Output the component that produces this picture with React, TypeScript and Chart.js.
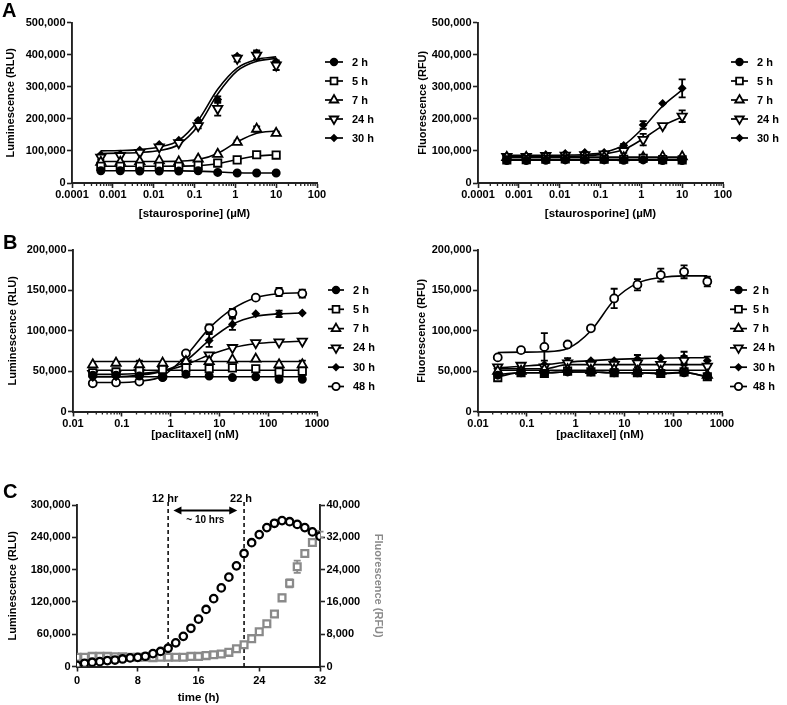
import React, { useEffect, useRef } from 'react';
import { Chart, registerables } from 'chart.js';
import { drawPoint } from 'chart.js/helpers';

Chart.register(...registerables);

const FONT = "'Liberation Sans', Arial, Helvetica, sans-serif";
const W = 787;
const H = 705;
const GRAY = '#8a8a8a';

// ---------------- DATA ----------------
const stauroConc = [0.000508, 0.00152, 0.00457, 0.0137, 0.0412, 0.123, 0.37, 1.11, 3.33, 10];
const paclitaxelConc = [0.0254, 0.0762, 0.229, 0.686, 2.06, 6.17, 18.5, 55.6, 167, 500];

const stauroMajorTicks = [0.0001, 0.001, 0.01, 0.1, 1, 10, 100];
const stauroTickLabels = ['0.0001', '0.001', '0.01', '0.1', '1', '10', '100'];
const paclMajorTicks = [0.01, 0.1, 1, 10, 100, 1000];
const paclTickLabels = ['0.01', '0.1', '1', '10', '100', '1000'];
const yTicksA = [0, 100000, 200000, 300000, 400000, 500000];
const yTicksB = [0, 50000, 100000, 150000, 200000];
const timeTicks = [0, 8, 16, 24, 32];
const yTicksCLum = [0, 60000, 120000, 180000, 240000, 300000];
const yTicksCFlu = [0, 8000, 16000, 24000, 32000, 40000];

const seriesA = ['2 h', '5 h', '7 h', '24 h', '30 h'];
const seriesB = ['2 h', '5 h', '7 h', '24 h', '30 h', '48 h'];

// A, luminescence (staurosporine)
const aLum2h = [38000, 38000, 37000, 37000, 37000, 38000, 33000, 31000, 31000, 31000];
const aLum5h = [52000, 52000, 52000, 52000, 52000, 55000, 62000, 72000, 88000, 87000];
const aLum7h = [65000, 65000, 67000, 70000, 66000, 75000, 90000, 127000, 168000, 155000];
const aLum24h = [80000, 85000, 95000, 112000, 125000, 178000, 232000, 388000, 398000, 367000];
const aLum30h = [88000, 90000, 102000, 120000, 133000, 195000, 260000, 395000, 405000, 378000];
const aLum2hFit = [38000, 38000, 38000, 38000, 37800, 37000, 34500, 32000, 31200, 31000];
const aLum5hFit = [52000, 52000, 52000, 52000, 52500, 54000, 60000, 73000, 84000, 88000];
const aLum7hFit = [67000, 67000, 67000, 67000, 68000, 73000, 92000, 128000, 155000, 162000];
const aLum24hFit = [92000, 93000, 95000, 101000, 120000, 178000, 277000, 349000, 379000, 388000];
const aLum30hFit = [100000, 101000, 104000, 112000, 133000, 195000, 292000, 358000, 385000, 393000];
const aLum7hErr = [0, 0, 0, 0, 0, 0, 0, 5000, 8000, 5000];
const aLum24hErr = [8000, 0, 0, 0, 0, 8000, 22000, 10000, 12000, 15000];
const aLum30hErr = [0, 0, 0, 0, 0, 0, 10000, 0, 8000, 0];

// A, fluorescence (staurosporine)
const aFlu2h = [70000, 70000, 71000, 72000, 72000, 72000, 71000, 72000, 70000, 70000];
const aFlu5h = [72000, 73000, 74000, 75000, 75000, 74000, 74000, 77000, 73000, 72000];
const aFlu7h = [80000, 80000, 80000, 81000, 80000, 80000, 79000, 80000, 82000, 82000];
const aFlu24h = [82000, 82000, 85000, 86000, 88000, 90000, 100000, 135000, 178000, 208000];
const aFlu30h = [85000, 85000, 88000, 92000, 95000, 95000, 117000, 181000, 248000, 295000];
const aFlu2hFit = [71000, 71000, 71000, 71000, 71000, 71000, 71000, 71000, 71000, 71000];
const aFlu5hFit = [74000, 74000, 74000, 74000, 74000, 74000, 74000, 74000, 74000, 74000];
const aFlu7hFit = [80500, 80500, 80500, 80500, 80500, 80500, 80500, 80500, 80500, 80500];
const aFlu24hFit = [82000, 82000, 82000, 83000, 85000, 90000, 104000, 138000, 178000, 206000];
const aFlu30hFit = [86000, 86000, 86000, 87000, 89000, 96000, 118000, 172000, 240000, 290000];
const aFlu24hErr = [0, 0, 0, 0, 0, 0, 6000, 18000, 5000, 18000];
const aFlu30hErr = [0, 0, 0, 0, 0, 0, 5000, 12000, 0, 28000];

// B, luminescence (paclitaxel)
const bLum2h = [45000, 45000, 44000, 42000, 46000, 44000, 42000, 43000, 40000, 40000];
const bLum5h = [48000, 49000, 50000, 52000, 54000, 53000, 54000, 53000, 49000, 50000];
const bLum7h = [58000, 60000, 58000, 60000, 62000, 62000, 64000, 65000, 58000, 58000];
const bLum24h = [47000, 47000, 48000, 52000, 60000, 70000, 79000, 85000, 86000, 87000];
const bLum30h = [42000, 43000, 45000, 50000, 62000, 88000, 108000, 121000, 121000, 122000];
const bLum48h = [35000, 36000, 37000, 43000, 72000, 103000, 122000, 141000, 148000, 146000];
const bLum2hFit = [43000, 43000, 43000, 43000, 43000, 43000, 43000, 43000, 43000, 43000];
const bLum5hFit = [51000, 51000, 51000, 51000, 51000, 51000, 51000, 51000, 51000, 51000];
const bLum7hFit = [62000, 62000, 62000, 62000, 62000, 62000, 62000, 62000, 62000, 62000];
const bLum24hFit = [46000, 46000, 47000, 50000, 58000, 70000, 79000, 84000, 86000, 87000];
const bLum30hFit = [43000, 43000, 45000, 50000, 63000, 88000, 108000, 118000, 121000, 122000];
const bLum48hFit = [36000, 36000, 37500, 44000, 69000, 103000, 127000, 141000, 146000, 147000];
const bLum5hErr = [0, 0, 0, 0, 3000, 3000, 3000, 3000, 4000, 5000];
const bLum7hErr = [0, 0, 5000, 0, 0, 0, 0, 0, 0, 5000];
const bLum30hErr = [0, 0, 0, 0, 0, 8000, 7000, 0, 4000, 0];
const bLum48hErr = [0, 0, 0, 0, 0, 5000, 5000, 0, 5000, 5000];

// B, fluorescence (paclitaxel)
const bFlu2h = [45000, 48000, 47000, 49000, 49000, 48000, 48000, 47000, 48000, 44000];
const bFlu5h = [42000, 48000, 47000, 50000, 49000, 48000, 48000, 47000, 49000, 43000];
const bFlu7h = [50000, 50000, 52000, 52000, 51000, 52000, 50000, 50000, 52000, 45000];
const bFlu24h = [55000, 57000, 55000, 60000, 58000, 58000, 60000, 58000, 63000, 56000];
const bFlu30h = [53000, 55000, 58000, 62000, 63000, 63000, 65000, 66000, 67000, 63000];
const bFlu48h = [67000, 76000, 80000, 83000, 103000, 140000, 157000, 169000, 173000, 161000];
const bFlu2hFit = [46000, 48000, 48000, 49000, 49000, 48000, 48000, 47000, 48000, 43000];
const bFlu5hFit = [43000, 48000, 48000, 49000, 49000, 48000, 48000, 47500, 48500, 43000];
const bFlu7hFit = [51000, 51000, 51000, 51000, 51000, 51000, 51000, 51000, 51000, 51000];
const bFlu24hFit = [53000, 53000, 53000, 58000, 58000, 58000, 58000, 58000, 58000, 58000];
const bFlu30hFit = [54000, 56000, 58000, 61000, 63000, 64500, 65500, 66000, 66500, 66500];
const bFlu48hFit = [73000, 73500, 74000, 78000, 100000, 138000, 159000, 166000, 168000, 168000];
const bFlu24hErr = [0, 0, 0, 6000, 0, 0, 5000, 0, 6000, 0];
const bFlu30hErr = [0, 0, 0, 0, 0, 0, 5000, 0, 7000, 5000];
const bFlu48hErr = [0, 3000, 17000, 0, 0, 12000, 7000, 8000, 8000, 6000];

// C, time course
const timeH = [0, 1, 2, 3, 4, 5, 6, 7, 8, 9, 10, 11, 12, 13, 14, 15, 16, 17, 18, 19, 20, 21, 22, 23, 24, 25, 26, 27, 28, 29, 30, 31, 32];
const lumRLU = [2000, 6000, 8000, 9000, 11000, 12000, 14000, 16000, 17000, 19000, 24000, 28000, 34000, 44000, 56000, 71000, 88000, 106000, 126000, 146000, 166000, 187000, 210000, 230000, 245000, 258000, 266000, 271000, 269000, 264000, 258000, 250000, 242000];
const fluRFU = [2300, 2300, 2500, 2500, 2500, 2400, 2400, 2300, 2300, 2300, 2200, 2300, 2300, 2300, 2300, 2500, 2500, 2700, 2900, 3100, 3500, 4400, 5400, 6900, 8600, 10600, 13000, 17000, 20600, 24700, 28000, 30700, 32700];
const fluRFUErr = [0, 0, 0, 0, 0, 0, 0, 0, 0, 0, 0, 0, 0, 0, 0, 0, 0, 0, 0, 0, 0, 0, 0, 0, 0, 0, 600, 800, 1000, 1500, 900, 800, 700];
const markerTimes = [12, 22];
const markerLabels = ['12 hr', '22 h'];
const arrowSpan = [12.7, 21.1];
const arrowLevel = 290000;
const spanLabel = '~ 10 hrs';

// ---------------- STYLES ----------------
const markerStyle: Record<string, any> = {
  '2 h': { pointStyle: 'circle', radius: 3.6, fill: '#000', rotation: 0 },
  '5 h': { pointStyle: 'rect', radius: 5.2, fill: '#fff', rotation: 0 },
  '7 h': { pointStyle: 'triangle', radius: 5.4, fill: '#fff', rotation: 0 },
  '24 h': { pointStyle: 'triangle', radius: 5.4, fill: '#fff', rotation: 180 },
  '30 h': { pointStyle: 'rectRot', radius: 3.2, fill: '#000', rotation: 0 },
  '48 h': { pointStyle: 'circle', radius: 4.0, fill: '#fff', rotation: 0 },
};

// ---------------- PLUGINS ----------------
const errorBarPlugin = {
  id: 'errorBars',
  beforeDatasetsDraw(chart: any) {
    const ctx = chart.ctx;
    chart.data.datasets.forEach((ds: any, i: number) => {
      if (!ds.errors) return;
      const meta = chart.getDatasetMeta(i);
      const ys = chart.scales[meta.yAxisID];
      ds.data.forEach((pt: any, j: number) => {
        const e = ds.errors[j];
        if (!e) return;
        const el = meta.data[j];
        if (!el) return;
        const x = el.x;
        const y1 = ys.getPixelForValue(pt.y + e);
        const y2 = ys.getPixelForValue(pt.y - e);
        ctx.save();
        ctx.strokeStyle = ds.errorColor || '#000';
        ctx.lineWidth = 1.8;
        ctx.beginPath();
        ctx.moveTo(x, y1);
        ctx.lineTo(x, y2);
        ctx.moveTo(x - 3.5, y1);
        ctx.lineTo(x + 3.5, y1);
        ctx.moveTo(x - 3.5, y2);
        ctx.lineTo(x + 3.5, y2);
        ctx.stroke();
        ctx.restore();
      });
    });
  },
};

const sideLegendPlugin = {
  id: 'sideLegend',
  afterDraw(chart: any, _args: any, opts: any) {
    if (!opts || opts.x === undefined) return;
    const ctx = chart.ctx;
    const items = chart.data.datasets.filter((d: any) => !d.isFit);
    items.forEach((ds: any, k: number) => {
      const y = opts.y + k * opts.gap;
      ctx.save();
      ctx.strokeStyle = '#000';
      ctx.lineWidth = 1.7;
      ctx.beginPath();
      ctx.moveTo(opts.x, y);
      ctx.lineTo(opts.x + opts.len, y);
      ctx.stroke();
      ctx.fillStyle = ds.pointBackgroundColor;
      ctx.strokeStyle = ds.pointBorderColor;
      ctx.lineWidth = ds.pointBorderWidth;
      drawPoint(ctx, { pointStyle: ds.pointStyle, rotation: ds.pointRotation || 0, radius: ds.pointRadius * 0.92, borderWidth: ds.pointBorderWidth } as any, opts.x + opts.len / 2, y);
      ctx.fillStyle = '#000';
      ctx.font = `bold 11px ${FONT}`;
      ctx.textAlign = 'left';
      ctx.textBaseline = 'middle';
      ctx.fillText(ds.label, opts.textX, y + 0.5);
      ctx.restore();
    });
  },
};

const minorTickPlugin = {
  id: 'minorTicks',
  afterDraw(chart: any) {
    const s = chart.scales.x;
    if (!s || s.type !== 'logarithmic') return;
    const ctx = chart.ctx;
    ctx.save();
    ctx.strokeStyle = '#222';
    ctx.lineWidth = 1.3;
    ctx.beginPath();
    s.ticks.forEach((t: any) => {
      if (t.major) return;
      const px = s.getPixelForValue(t.value);
      ctx.moveTo(px, s.top);
      ctx.lineTo(px, s.top + 3);
    });
    ctx.stroke();
    ctx.restore();
  },
};

const timeMarkersPlugin = {
  id: 'timeMarkers',
  beforeDatasetsDraw(chart: any, _args: any, opts: any) {
    if (!opts || !opts.times) return;
    const ctx = chart.ctx;
    const xs = chart.scales.x;
    const ys = chart.scales.y;
    const { top, bottom } = chart.chartArea;
    ctx.save();
    ctx.strokeStyle = '#000';
    ctx.lineWidth = 1.5;
    ctx.setLineDash([4, 3]);
    opts.times.forEach((t: number) => {
      const px = xs.getPixelForValue(t);
      ctx.beginPath();
      ctx.moveTo(px, top - 3);
      ctx.lineTo(px, bottom);
      ctx.stroke();
    });
    ctx.setLineDash([]);
    ctx.fillStyle = '#000';
    ctx.font = `bold 11px ${FONT}`;
    ctx.textAlign = 'center';
    ctx.textBaseline = 'alphabetic';
    opts.times.forEach((t: number, i: number) => {
      const px = xs.getPixelForValue(t);
      ctx.fillText(opts.labels[i], px - 3, top - 3);
    });
    // arrow
    const ax1 = xs.getPixelForValue(opts.span[0]);
    const ax2 = xs.getPixelForValue(opts.span[1]);
    const ay = ys.getPixelForValue(opts.level);
    ctx.lineWidth = 2;
    ctx.beginPath();
    ctx.moveTo(ax1 + 5, ay);
    ctx.lineTo(ax2 - 5, ay);
    ctx.stroke();
    ctx.beginPath();
    ctx.moveTo(ax1, ay);
    ctx.lineTo(ax1 + 8, ay - 4);
    ctx.lineTo(ax1 + 8, ay + 4);
    ctx.closePath();
    ctx.fill();
    ctx.beginPath();
    ctx.moveTo(ax2, ay);
    ctx.lineTo(ax2 - 8, ay - 4);
    ctx.lineTo(ax2 - 8, ay + 4);
    ctx.closePath();
    ctx.fill();
    ctx.font = `bold 10px ${FONT}`;
    ctx.textBaseline = 'middle';
    ctx.fillText(opts.spanLabel, (ax1 + ax2) / 2, ay + 10);
    ctx.restore();
  },
};

// ---------------- AXES ----------------
const tickFont = { family: FONT, size: 11, weight: 'bold' as const };

function logXAxis(min: number, max: number, majors: number[], labels: string[], title: string, height: number) {
  return {
    type: 'logarithmic',
    position: 'bottom',
    min,
    max,
    afterBuildTicks: (s: any) => {
      const t: any[] = [];
      majors.forEach((m, i) => {
        t.push({ value: m, major: true });
        if (i < majors.length - 1) for (let k = 2; k <= 9; k++) t.push({ value: m * k, major: false });
      });
      s.ticks = t;
    },
    afterFit: (s: any) => {
      s.height = height;
    },
    ticks: {
      autoSkip: false,
      maxRotation: 0,
      minRotation: 0,
      padding: 0.5,
      color: '#000',
      font: tickFont,
      callback: (v: any) => {
        const i = majors.findIndex((m) => Math.abs(m - v) / m < 1e-6);
        return i >= 0 ? labels[i] : '';
      },
    },
    grid: {
      drawOnChartArea: false,
      tickLength: 5,
      tickWidth: 1.6,
      color: (c: any) => (c.tick && c.tick.major ? '#222' : 'rgba(0,0,0,0)'),
    },
    border: { color: '#222', width: 1.9 },
    title: { display: true, text: title, color: '#000', font: { family: FONT, size: 11.5, weight: 'bold' }, padding: { top: 0, bottom: 0 } },
  };
}

function linYAxis(min: number, max: number, ticks: number[], title: string, width: number, position = 'left', titleColor = '#000') {
  return {
    type: 'linear',
    position,
    min,
    max,
    afterBuildTicks: (s: any) => {
      s.ticks = ticks.map((v) => ({ value: v }));
    },
    afterFit: (s: any) => {
      s.width = width;
    },
    ticks: {
      padding: 1.5,
      color: '#000',
      font: tickFont,
      callback: (v: any) => Number(v).toLocaleString('en-US'),
    },
    grid: { drawOnChartArea: false, tickLength: 5, tickWidth: 1.6, color: '#222' },
    border: { color: '#222', width: 1.9 },
    title: { display: true, text: title, color: titleColor, font: { family: FONT, size: 11, weight: 'bold' }, padding: 4 },
  };
}

// ---------------- CONFIGS ----------------
type Series = { label: string; values: number[]; fit: number[]; err?: number[] };

function doseDatasets(conc: number[], series: Series[]) {
  const out: any[] = [];
  series.forEach((s) => {
    const m = markerStyle[s.label];
    out.push({
      label: s.label,
      data: conc.map((c, j) => ({ x: c, y: s.values[j] })),
      showLine: false,
      pointStyle: m.pointStyle,
      pointRadius: m.radius,
      pointHoverRadius: m.radius,
      pointRotation: m.rotation,
      pointBackgroundColor: m.fill,
      pointBorderColor: '#000',
      pointBorderWidth: 1.8,
      errors: s.err,
      order: 0,
    });
    out.push({
      label: s.label + ' fit',
      isFit: true,
      data: conc.map((c, j) => ({ x: c, y: s.fit[j] })),
      showLine: true,
      borderColor: '#000',
      borderWidth: 1.6,
      pointRadius: 0,
      cubicInterpolationMode: 'monotone',
      fill: false,
      order: 1,
    });
  });
  return out;
}

type Box = { left: number; right: number; top: number; bottom: number };

function doseConfig(p: {
  conc: number[];
  series: Series[];
  plot: Box;
  yWidth: number;
  xHeight: number;
  x: any;
  y: any;
  legend: any;
}) {
  return {
    type: 'scatter',
    data: { datasets: doseDatasets(p.conc, p.series) },
    options: {
      responsive: false,
      animation: false,
      events: [],
      layout: {
        padding: {
          left: p.plot.left - p.yWidth,
          right: W - p.plot.right,
          top: p.plot.top,
          bottom: H - p.plot.bottom - p.xHeight,
        },
      },
      scales: { x: p.x, y: p.y },
      plugins: { legend: { display: false }, tooltip: { enabled: false }, sideLegend: p.legend },
    },
    plugins: [errorBarPlugin, sideLegendPlugin, minorTickPlugin],
  };
}

const buildALum = () => {
  const plot = { left: 72, right: 317, top: 22.5, bottom: 183 };
  return doseConfig({
    conc: stauroConc,
    series: [
      { label: seriesA[0], values: aLum2h, fit: aLum2hFit },
      { label: seriesA[1], values: aLum5h, fit: aLum5hFit },
      { label: seriesA[2], values: aLum7h, fit: aLum7hFit, err: aLum7hErr },
      { label: seriesA[3], values: aLum24h, fit: aLum24hFit, err: aLum24hErr },
      { label: seriesA[4], values: aLum30h, fit: aLum30hFit, err: aLum30hErr },
    ],
    plot,
    yWidth: 72,
    xHeight: 38,
    x: logXAxis(0.0001, 100, stauroMajorTicks, stauroTickLabels, '[staurosporine] (\u00b5M)', 38),
    y: linYAxis(0, 500000, yTicksA, 'Luminescence (RLU)', 72),
    legend: { x: 325, y: 62, gap: 19, len: 18, textX: 352 },
  });
};

const buildAFlu = () => {
  const plot = { left: 478, right: 723, top: 22.5, bottom: 183 };
  return doseConfig({
    conc: stauroConc,
    series: [
      { label: seriesA[0], values: aFlu2h, fit: aFlu2hFit },
      { label: seriesA[1], values: aFlu5h, fit: aFlu5hFit },
      { label: seriesA[2], values: aFlu7h, fit: aFlu7hFit },
      { label: seriesA[3], values: aFlu24h, fit: aFlu24hFit, err: aFlu24hErr },
      { label: seriesA[4], values: aFlu30h, fit: aFlu30hFit, err: aFlu30hErr },
    ],
    plot,
    yWidth: 66,
    xHeight: 38,
    x: logXAxis(0.0001, 100, stauroMajorTicks, stauroTickLabels, '[staurosporine] (\u00b5M)', 38),
    y: linYAxis(0, 500000, yTicksA, 'Fluorescence (RFU)', 66),
    legend: { x: 731, y: 62, gap: 19, len: 17, textX: 757 },
  });
};

const buildBLum = () => {
  const plot = { left: 73, right: 317, top: 250, bottom: 411.5 };
  return doseConfig({
    conc: paclitaxelConc,
    series: [
      { label: seriesB[0], values: bLum2h, fit: bLum2hFit },
      { label: seriesB[1], values: bLum5h, fit: bLum5hFit, err: bLum5hErr },
      { label: seriesB[2], values: bLum7h, fit: bLum7hFit, err: bLum7hErr },
      { label: seriesB[3], values: bLum24h, fit: bLum24hFit },
      { label: seriesB[4], values: bLum30h, fit: bLum30hFit, err: bLum30hErr },
      { label: seriesB[5], values: bLum48h, fit: bLum48hFit, err: bLum48hErr },
    ],
    plot,
    yWidth: 71,
    xHeight: 30,
    x: logXAxis(0.01, 1000, paclMajorTicks, paclTickLabels, '[paclitaxel] (nM)', 30),
    y: linYAxis(0, 200000, yTicksB, 'Luminescence (RLU)', 71),
    legend: { x: 328, y: 290, gap: 19.3, len: 16, textX: 353 },
  });
};

const buildBFlu = () => {
  const plot = { left: 478, right: 722, top: 250, bottom: 411.5 };
  return doseConfig({
    conc: paclitaxelConc,
    series: [
      { label: seriesB[0], values: bFlu2h, fit: bFlu2hFit },
      { label: seriesB[1], values: bFlu5h, fit: bFlu5hFit },
      { label: seriesB[2], values: bFlu7h, fit: bFlu7hFit },
      { label: seriesB[3], values: bFlu24h, fit: bFlu24hFit, err: bFlu24hErr },
      { label: seriesB[4], values: bFlu30h, fit: bFlu30hFit, err: bFlu30hErr },
      { label: seriesB[5], values: bFlu48h, fit: bFlu48hFit, err: bFlu48hErr },
    ],
    plot,
    yWidth: 67,
    xHeight: 30,
    x: logXAxis(0.01, 1000, paclMajorTicks, paclTickLabels, '[paclitaxel] (nM)', 30),
    y: linYAxis(0, 200000, yTicksB, 'Fluorescence (RFU)', 67),
    legend: { x: 730, y: 290, gap: 19.3, len: 17, textX: 753 },
  });
};

const buildTime = () => {
  const plot = { left: 77, right: 320, top: 505, bottom: 666.5 };
  const yLeftW = 75;
  const yRightW = 69;
  const xH = 38;
  return {
    type: 'scatter',
    data: {
      datasets: [
        {
          label: 'Luminescence',
          data: timeH.map((t, i) => ({ x: t, y: lumRLU[i] })),
          yAxisID: 'y',
          showLine: false,
          pointStyle: 'circle',
          pointRadius: 3.7,
          pointHoverRadius: 3.7,
          pointBorderWidth: 2.3,
          pointBorderColor: '#000',
          pointBackgroundColor: '#fff',
        },
        {
          label: 'Fluorescence',
          data: timeH.map((t, i) => ({ x: t, y: fluRFU[i] })),
          yAxisID: 'y1',
          showLine: false,
          pointStyle: 'rect',
          pointRadius: 4.8,
          pointHoverRadius: 4.8,
          pointBorderWidth: 2.3,
          pointBorderColor: GRAY,
          pointBackgroundColor: '#fff',
          errors: fluRFUErr,
          errorColor: GRAY,
        },
      ],
    },
    options: {
      responsive: false,
      animation: false,
      events: [],
      layout: {
        padding: {
          left: plot.left - yLeftW,
          right: W - plot.right - yRightW,
          top: plot.top,
          bottom: H - plot.bottom - xH,
        },
      },
      scales: {
        x: {
          type: 'linear',
          position: 'bottom',
          min: 0,
          max: 32,
          afterBuildTicks: (s: any) => {
            s.ticks = timeTicks.map((v) => ({ value: v }));
          },
          afterFit: (s: any) => {
            s.height = xH;
          },
          ticks: { padding: 3, color: '#000', font: tickFont, maxRotation: 0 },
          grid: { drawOnChartArea: false, tickLength: 5, tickWidth: 1.6, color: '#222' },
          border: { color: '#222', width: 1.9 },
          title: { display: true, text: 'time (h)', color: '#000', font: { family: FONT, size: 11.5, weight: 'bold' }, padding: { top: 0, bottom: 0 } },
        },
        y: linYAxis(0, 300000, yTicksCLum, 'Luminescence (RLU)', yLeftW),
        y1: linYAxis(0, 40000, yTicksCFlu, 'Fluorescence (RFU)', yRightW, 'right', GRAY),
      },
      plugins: {
        legend: { display: false },
        tooltip: { enabled: false },
        timeMarkers: { times: markerTimes, labels: markerLabels, span: arrowSpan, level: arrowLevel, spanLabel },
      },
    },
    plugins: [errorBarPlugin, timeMarkersPlugin],
  };
};

// ---------------- COMPONENTS ----------------
function ChartLayer({ build }: { build: () => any }) {
  const ref = useRef<HTMLCanvasElement>(null);
  useEffect(() => {
    const chart = new Chart(ref.current as HTMLCanvasElement, build() as any);
    return () => chart.destroy();
  }, [build]);
  return (
    <canvas
      ref={ref}
      width={W}
      height={H}
      style={{ position: 'absolute', left: 0, top: 0, width: W, height: H }}
    />
  );
}

const letterStyle = (left: number, top: number): React.CSSProperties => ({
  position: 'absolute',
  left,
  top,
  fontFamily: FONT,
  fontWeight: 'bold',
  fontSize: 20,
  lineHeight: '20px',
  color: '#000',
});

export default function App() {
  Chart.defaults.font.family = FONT;
  Chart.defaults.color = '#000';
  return (
    <div style={{ position: 'absolute', left: 0, top: 0, width: W, height: H, background: '#fff', overflow: 'hidden' }}>
      <ChartLayer build={buildALum} />
      <ChartLayer build={buildAFlu} />
      <ChartLayer build={buildBLum} />
      <ChartLayer build={buildBFlu} />
      <ChartLayer build={buildTime} />
      <div style={letterStyle(2, 0)}>A</div>
      <div style={letterStyle(3, 232)}>B</div>
      <div style={letterStyle(3, 481)}>C</div>
    </div>
  );
}
